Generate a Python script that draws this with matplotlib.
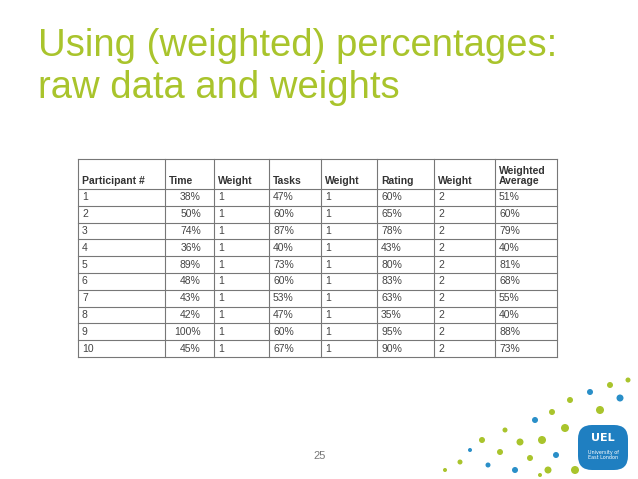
import matplotlib
matplotlib.use("Agg")
import matplotlib.pyplot as plt
from matplotlib.patches import Circle, FancyBboxPatch

headers = ["Participant #", "Time", "Weight", "Tasks", "Weight", "Rating", "Weight", "Weighted\nAverage"]
participants = ["1", "2", "3", "4", "5", "6", "7", "8", "9", "10"]
time_pct = ["38%", "50%", "74%", "36%", "89%", "48%", "43%", "42%", "100%", "45%"]
time_w = ["1"] * 10
tasks_pct = ["47%", "60%", "87%", "40%", "73%", "60%", "53%", "47%", "60%", "67%"]
tasks_w = ["1"] * 10
rating_pct = ["60%", "65%", "78%", "43%", "80%", "83%", "63%", "35%", "95%", "90%"]
rating_w = ["2"] * 10
weighted_avg = ["51%", "60%", "79%", "40%", "81%", "68%", "55%", "40%", "88%", "73%"]

columns = [participants, time_pct, time_w, tasks_pct, tasks_w, rating_pct, rating_w, weighted_avg]

fig = plt.figure(figsize=(6.38, 4.79), dpi=100)
ax = fig.add_axes([0, 0, 1, 1])
ax.set_xlim(0, 638)
ax.set_ylim(479, 0)
ax.axis("off")

green = "#a9c42c"
ax.text(38, 67, "Using (weighted) percentages:\nraw data and weights", color=green,
        fontsize=27.5, family="Liberation Sans", va="center", ha="left", linespacing=1.2)

xb = [78, 165, 214, 269, 321, 377, 434, 495, 557]
y_top, y_head = 159, 189
row_h = (357 - 189) / 10
yb = [y_top, y_head] + [y_head + row_h * (i + 1) for i in range(10)]
lc = "#777777"
for x in xb:
    ax.plot([x, x], [y_top, yb[-1]], color=lc, lw=0.8)
for y in yb:
    ax.plot([xb[0], xb[-1]], [y, y], color=lc, lw=0.8)

for j, h in enumerate(headers):
    ax.text(xb[j] + 4, y_head - 2.5, h, fontsize=7.5, fontweight="bold", color="#333333",
            family="Liberation Sans", va="bottom", ha="left", linespacing=1.05)

for j, col in enumerate(columns):
    for i, v in enumerate(col):
        yc = y_head + row_h * (i + 0.5)
        if j == 1:
            ax.text(xb[2] - 13, yc, v, fontsize=7.5, color="#444444", family="Liberation Sans",
                    va="center", ha="right")
        else:
            ax.text(xb[j] + 4, yc, v, fontsize=7.5, color="#444444", family="Liberation Sans",
                    va="center", ha="left")

ax.text(320, 456, "25", fontsize=8, color="#777777", ha="center", va="center", family="Liberation Sans")

dots = [(445, 470, 2, green), (460, 462, 2.5, green), (470, 450, 2, "#2a8fc8"), (482, 440, 3, green),
        (488, 465, 2.5, "#2a8fc8"), (500, 452, 3, green), (505, 430, 2.5, green), (515, 470, 3, "#2a8fc8"),
        (520, 442, 3.5, green), (530, 458, 3, green), (535, 420, 3, "#2a8fc8"), (542, 440, 4, green),
        (548, 470, 3.5, green), (552, 412, 3, green), (556, 455, 3, "#2a8fc8"), (565, 428, 4, green),
        (570, 400, 3, green), (575, 470, 4, green), (590, 392, 3, "#2a8fc8"), (600, 410, 4, green),
        (610, 385, 3, green), (620, 398, 3.5, "#2a8fc8"), (628, 380, 2.5, green), (540, 475, 2, green)]
for x, y, r, c in dots:
    ax.add_patch(Circle((x, y), r, color=c, lw=0))
ax.add_patch(FancyBboxPatch((578, 425), 50, 45, boxstyle="round,pad=0,rounding_size=14", color="#1f7fc1", lw=0))
ax.text(603, 438, "UEL", color="white", fontsize=8, fontweight="bold", ha="center", va="center")
ax.text(603, 455, "University of\nEast London", color="white", fontsize=3.5, ha="center", va="center")

fig.savefig("out.png", dpi=100, facecolor="white")
